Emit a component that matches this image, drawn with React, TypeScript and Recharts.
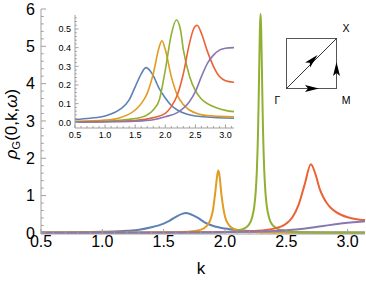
import React from "react";
import { LineChart, Line, XAxis, YAxis } from "recharts";

// spectral curves, main panel: [k, rho]
const mainBlue: [number, number][] = [
  [0.5, 0.012], [0.75, 0.017], [1.0, 0.03], [1.2, 0.055], [1.3, 0.085], [1.4, 0.15],
  [1.5, 0.25], [1.55, 0.33], [1.6, 0.43], [1.65, 0.51], [1.68, 0.53], [1.72, 0.5],
  [1.78, 0.4], [1.83, 0.29], [1.9, 0.19], [2.0, 0.115], [2.1, 0.075], [2.2, 0.052],
  [2.4, 0.03], [2.6, 0.019], [2.8, 0.013], [3.0, 0.01], [3.1416, 0.009],
];
const mainOrange: [number, number][] = [
  [0.5, 0.001], [1.0, 0.002], [1.5, 0.009], [1.7, 0.03], [1.8, 0.08], [1.85, 0.18],
  [1.88, 0.34], [1.9, 0.58], [1.92, 1.06], [1.935, 1.5], [1.945, 1.67], [1.955, 1.55],
  [1.97, 1.06], [2.0, 0.44], [2.03, 0.22], [2.06, 0.13], [2.1, 0.075], [2.2, 0.03],
  [2.3, 0.016], [2.5, 0.007], [2.8, 0.004], [3.1416, 0.003],
];
const mainGreen: [number, number][] = [
  [0.5, 0.001], [1.0, 0.002], [1.5, 0.004], [1.8, 0.009], [2.0, 0.025], [2.1, 0.058],
  [2.15, 0.106], [2.19, 0.2], [2.22, 0.4], [2.24, 0.74], [2.25, 1.08], [2.26, 1.68],
  [2.27, 2.78], [2.275, 3.62], [2.28, 4.6], [2.285, 5.49], [2.29, 5.87], [2.295, 5.49],
  [2.3, 4.6], [2.305, 3.62], [2.31, 2.78], [2.32, 1.68], [2.33, 1.08], [2.34, 0.74],
  [2.36, 0.4], [2.39, 0.2], [2.44, 0.093], [2.5, 0.052], [2.6, 0.022], [2.8, 0.008],
  [3.1416, 0.003],
];
const mainRed: [number, number][] = [
  [0.5, 0.003], [1.0, 0.005], [1.5, 0.01], [1.8, 0.016], [2.0, 0.022], [2.2, 0.043],
  [2.3, 0.066], [2.4, 0.114], [2.5, 0.25], [2.55, 0.42], [2.6, 0.75], [2.65, 1.3],
  [2.7, 1.84], [2.74, 1.55], [2.77, 1.2], [2.8, 0.97], [2.83, 0.8], [2.86, 0.68],
  [2.9, 0.57], [2.95, 0.48], [3.0, 0.42], [3.05, 0.38], [3.1, 0.355], [3.1416, 0.345],
];
const mainPurple: [number, number][] = [
  [0.5, 0.002], [1.0, 0.004], [1.5, 0.008], [2.0, 0.02], [2.2, 0.03], [2.4, 0.05],
  [2.5, 0.07], [2.6, 0.1], [2.7, 0.14], [2.8, 0.185], [2.9, 0.23], [3.0, 0.27],
  [3.1, 0.3], [3.1416, 0.31],
];

// inset panel
const insetBlue: [number, number][] = [
  [0.5, 0.015], [0.75, 0.022], [1.0, 0.034], [1.25, 0.07], [1.4, 0.12], [1.5, 0.19],
  [1.6, 0.26], [1.68, 0.293], [1.75, 0.275], [1.8, 0.25], [1.9, 0.18], [2.0, 0.13],
  [2.1, 0.09], [2.2, 0.066], [2.35, 0.045], [2.5, 0.034], [2.75, 0.027], [3.0, 0.023],
  [3.1416, 0.022],
];
const insetOrange: [number, number][] = [
  [0.5, 0.005], [1.0, 0.012], [1.25, 0.025], [1.5, 0.066], [1.6, 0.1], [1.7, 0.155],
  [1.8, 0.26], [1.9, 0.405], [1.945, 0.437], [2.0, 0.39], [2.1, 0.245], [2.2, 0.146],
  [2.3, 0.095], [2.4, 0.066], [2.55, 0.045], [2.7, 0.036], [2.9, 0.032], [3.1416, 0.03],
];
const insetGreen: [number, number][] = [
  [0.5, 0.003], [1.0, 0.006], [1.5, 0.02], [1.7, 0.04], [1.8, 0.066], [1.9, 0.12],
  [2.0, 0.28], [2.1, 0.47], [2.183, 0.548], [2.25, 0.5], [2.3, 0.39], [2.4, 0.25],
  [2.5, 0.17], [2.6, 0.125], [2.7, 0.1], [2.85, 0.078], [3.0, 0.064], [3.1416, 0.057],
];
const insetRed: [number, number][] = [
  [0.5, 0.002], [1.0, 0.004], [1.5, 0.01], [1.8, 0.025], [2.0, 0.048], [2.1, 0.084],
  [2.2, 0.146], [2.3, 0.26], [2.4, 0.42], [2.47, 0.5], [2.53, 0.52], [2.6, 0.477],
  [2.7, 0.38], [2.8, 0.3], [2.9, 0.245], [3.0, 0.223], [3.1416, 0.215],
];
const insetPurple: [number, number][] = [
  [0.5, 0.0], [1.0, 0.002], [1.5, 0.006], [1.8, 0.014], [2.0, 0.03], [2.2, 0.052],
  [2.4, 0.11], [2.5, 0.164], [2.6, 0.245], [2.7, 0.316], [2.8, 0.36], [2.9, 0.387],
  [3.0, 0.397], [3.1416, 0.4],
];

const kTicks = [0.5, 0.6, 0.7, 0.8, 0.9, 1.0, 1.1, 1.2, 1.3, 1.4, 1.5, 1.6, 1.7, 1.8, 1.9, 2.0, 2.1, 2.2, 2.3, 2.4, 2.5, 2.6, 2.7, 2.8, 2.9, 3.0, 3.1];
const mainYTicks = [0, 0.2, 0.4, 0.6, 0.8, 1, 1.2, 1.4, 1.6, 1.8, 2, 2.2, 2.4, 2.6, 2.8, 3, 3.2, 3.4, 3.6, 3.8, 4, 4.2, 4.4, 4.6, 4.8, 5, 5.2, 5.4, 5.6, 5.8, 6];
const insetYTicks = [0, 0.02, 0.04, 0.06, 0.08, 0.1, 0.12, 0.14, 0.16, 0.18, 0.2, 0.22, 0.24, 0.26, 0.28, 0.3, 0.32, 0.34, 0.36, 0.38, 0.4, 0.42, 0.44, 0.46, 0.48, 0.5, 0.52, 0.54, 0.56];

const COLORS = ["#5E81B5", "#E19C24", "#8FB032", "#EB6235", "#8778B3"];
const FRAME = "#a0a0a0";
const FONT = "'Liberation Sans', Arial, sans-serif";
const K_MAX = 3.14159;

const rows = (pts: [number, number][]) => pts.map(([k, v]) => ({ k, v }));
const isMajor = (v: number, step: number) => Math.abs(v / step - Math.round(v / step)) < 1e-6;

type Side = "bottom" | "left" | "top" | "right";

function FrameTick(props: any) {
  const { x, y, payload, side, step, len, fontSize, gap, fmt } = props;
  const v = payload.value as number;
  const major = isMajor(v, step);
  const l = major ? len : len * 0.55;
  const s = side as Side;
  let line;
  if (s === "bottom") line = <line x1={x} x2={x} y1={y} y2={y - l} stroke={FRAME} />;
  else if (s === "top") line = <line x1={x} x2={x} y1={y} y2={y + l} stroke={FRAME} />;
  else if (s === "left") line = <line x1={x} x2={x + l} y1={y} y2={y} stroke={FRAME} />;
  else line = <line x1={x} x2={x - l} y1={y} y2={y} stroke={FRAME} />;
  let label = null;
  if (major && s === "bottom" && fmt) {
    label = (
      <text x={x} y={y + gap} textAnchor="middle" fontSize={fontSize} fontFamily={FONT} fill="#000">
        {fmt(v)}
      </text>
    );
  }
  if (major && s === "left" && fmt) {
    label = (
      <text x={x - gap} y={y + fontSize * 0.36} textAnchor="end" fontSize={fontSize} fontFamily={FONT} fill="#000">
        {fmt(v)}
      </text>
    );
  }
  return (
    <g>
      {line}
      {label}
    </g>
  );
}

const series = (pts: [number, number][][], width: number) =>
  pts.map((p, i) => (
    <Line
      key={i}
      data={rows(p)}
      dataKey="v"
      type="monotone"
      stroke={COLORS[i]}
      strokeWidth={width}
      dot={false}
      isAnimationActive={false}
    />
  ));

function MainChart() {
  const yDomain = [-0.03, 6];
  return (
    <LineChart width={366} height={282} margin={{ top: 9, right: 1, bottom: 0, left: 0 }}>
      <XAxis
        dataKey="k" type="number" domain={[0.5, K_MAX]} allowDataOverflow ticks={kTicks} interval={0}
        height={48} tickSize={0} tickMargin={0} axisLine={{ stroke: FRAME }} tickLine={false}
        tick={(p: any) => <FrameTick {...p} side="bottom" step={0.5} len={5} fontSize={16} gap={13} fmt={(v: number) => v.toFixed(1)} />}
      />
      <XAxis
        xAxisId="top" orientation="top" dataKey="k" type="number" domain={[0.5, K_MAX]} allowDataOverflow ticks={kTicks}
        interval={0} height={0} tickSize={0} tickMargin={0} axisLine={{ stroke: FRAME }} tickLine={false}
        tick={(p: any) => <FrameTick {...p} side="top" step={0.5} len={5} />}
      />
      <YAxis
        type="number" domain={yDomain} allowDataOverflow ticks={mainYTicks} interval={0} width={41}
        tickSize={0} tickMargin={0} axisLine={{ stroke: FRAME }} tickLine={false}
        tick={(p: any) => <FrameTick {...p} side="left" step={1} len={5} fontSize={16} gap={6} fmt={(v: number) => String(Math.round(v))} />}
      />
      <YAxis
        yAxisId="right" orientation="right" type="number" domain={yDomain} allowDataOverflow ticks={mainYTicks}
        interval={0} width={0} tickSize={0} tickMargin={0} axisLine={{ stroke: FRAME }} tickLine={false}
        tick={(p: any) => <FrameTick {...p} side="right" step={1} len={5} />}
      />
      {series([mainBlue, mainOrange, mainGreen, mainRed, mainPurple], 2)}
    </LineChart>
  );
}

function InsetChart() {
  const yDomain = [-0.0305, 0.575];
  return (
    <LineChart width={190} height={135} margin={{ top: 5, right: 6, bottom: 0, left: 0 }}>
      <XAxis
        dataKey="k" type="number" domain={[0.5, K_MAX]} allowDataOverflow ticks={kTicks} interval={0}
        height={17} tickSize={0} tickMargin={0} axisLine={{ stroke: FRAME }} tickLine={false}
        tick={(p: any) => <FrameTick {...p} side="bottom" step={0.5} len={3.5} fontSize={9} gap={10} fmt={(v: number) => v.toFixed(1)} />}
      />
      <XAxis
        xAxisId="top" orientation="top" dataKey="k" type="number" domain={[0.5, K_MAX]} allowDataOverflow ticks={kTicks}
        interval={0} height={0} tickSize={0} tickMargin={0} axisLine={{ stroke: FRAME }} tickLine={false}
        tick={(p: any) => <FrameTick {...p} side="top" step={0.5} len={3.5} />}
      />
      <YAxis
        type="number" domain={yDomain} allowDataOverflow ticks={insetYTicks} interval={0} width={25}
        tickSize={0} tickMargin={0} axisLine={{ stroke: FRAME }} tickLine={false}
        tick={(p: any) => <FrameTick {...p} side="left" step={0.1} len={3.5} fontSize={9} gap={4} fmt={(v: number) => v.toFixed(1)} />}
      />
      <YAxis
        yAxisId="right" orientation="right" type="number" domain={yDomain} allowDataOverflow ticks={insetYTicks}
        interval={0} width={0} tickSize={0} tickMargin={0} axisLine={{ stroke: FRAME }} tickLine={false}
        tick={(p: any) => <FrameTick {...p} side="right" step={0.1} len={3.5} />}
      />
      {series([insetBlue, insetOrange, insetGreen, insetRed, insetPurple], 1.6)}
    </LineChart>
  );
}

// Brillouin-zone path sketch (Γ → M → X and Γ → X)
function ZoneSketch() {
  return (
    <svg width={366} height={282} style={{ position: "absolute", left: 0, top: 0, pointerEvents: "none" }}>
      <rect x={286.5} y={38.5} width={50} height={50} fill="none" stroke="#555" strokeWidth={1} />
      <line x1={286.5} y1={88.5} x2={336.5} y2={38.5} stroke="#000" strokeWidth={0.8} />
      <polygon points="319,88.5 305,85 308,88.5 305,92" fill="#000" />
      <polygon points="336.5,62 333,76 336.5,73 340,76" fill="#000" />
      <polygon points="317.5,55 310.1,67.4 309.8,62.7 305.1,62.4" fill="#000" />
      <g fontFamily={FONT} fontSize={10.5} fill="#000" textAnchor="middle">
        <text x={277.5} y={104}>Γ</text>
        <text x={346} y={104}>M</text>
        <text x={346} y={32}>X</text>
      </g>
    </svg>
  );
}

export default function App() {
  return (
    <div style={{ position: "absolute", left: 0, top: 0, width: 366, height: 282, background: "#fff", fontFamily: FONT }}>
      <MainChart />
      <div style={{ position: "absolute", left: 50, top: 10, width: 190, height: 135, background: "#fff" }}>
        <InsetChart />
      </div>
      <ZoneSketch />
      <svg width={366} height={282} style={{ position: "absolute", left: 0, top: 0, pointerEvents: "none" }}>
        <text x={201} y={274} textAnchor="middle" fontSize={17} fontFamily={FONT}>k</text>
        <text transform="translate(17,124) rotate(-90)" textAnchor="middle" fontSize={17} fontFamily={FONT}>
          <tspan fontStyle="italic">ρ</tspan>
          <tspan fontSize={11} dy={3}>G</tspan>
          <tspan dy={-3}>(0,k,</tspan>
          <tspan fontStyle="italic">ω</tspan>
          <tspan>)</tspan>
        </text>
      </svg>
    </div>
  );
}
